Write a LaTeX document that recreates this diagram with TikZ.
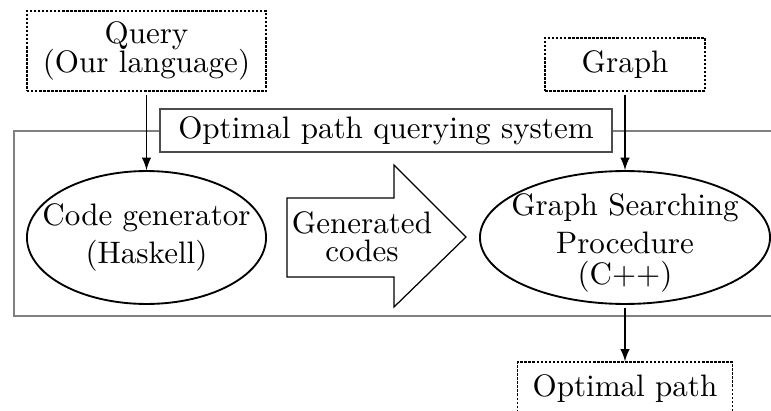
\documentclass[tikz,border=0pt]{standalone}
\usetikzlibrary{shapes.geometric}

\tikzset{
  srcbox/.style={draw, dash pattern=on 0.8pt off 0.5pt, inner sep=3pt},
  prog/.style={draw, ellipse, line width=0.6pt, inner sep=0pt},
  flow/.style={-latex, shorten <=1pt},
}

\begin{document}
\begin{tikzpicture}[x=0.322pt, y=-0.322pt]
\clip (0,0) rectangle (771,411);

%% system frame
\draw[gray, line width=0.8pt] (14,131) rectangle (800,316);
\node[draw=black!70, line width=0.6pt, fill=white, minimum width=145.5pt,
      minimum height=13.8pt, inner sep=0pt] (sys) at (386,130.5)
      {Optimal path querying system};

%% input and output
\node[srcbox, minimum width=77pt, minimum height=25.8pt, align=center] (query) at (146.5,51)
      {Query\\[-2.5pt](Our language)};
\node[srcbox, minimum width=51.5pt, minimum height=17pt] (graph) at (625,64.5) {Graph};
\node[srcbox, minimum width=69pt, minimum height=17pt] (opt) at (625,388.5) {Optimal path};

%% programs
\node[prog, minimum width=77pt, minimum height=42.8pt] (gen) at (146.5,237.5) {};
\node[align=center] (genlbl) at (gen) {Code generator\\(Haskell)};
\node[prog, minimum width=93.4pt, minimum height=42.8pt] (srch) at (625,237.5) {};
\node[align=center] (srchlbl) at (625,243) {Graph Searching\\Procedure\\[-2pt](C++)};

%% generated codes (block arrow)
\draw (287,198) -- (394,198) -- (394,165) -- (466,237) -- (394,307) -- (394,277) -- (287,277) -- cycle;
\node[align=center] (codes) at (362,237) {Generated\\[-3pt]codes};

%% edges
\draw[flow] (query) -- (gen);
\draw[flow] (graph) -- (srch);
\draw[flow] (srch) -- (opt);
\end{tikzpicture}
\end{document}
